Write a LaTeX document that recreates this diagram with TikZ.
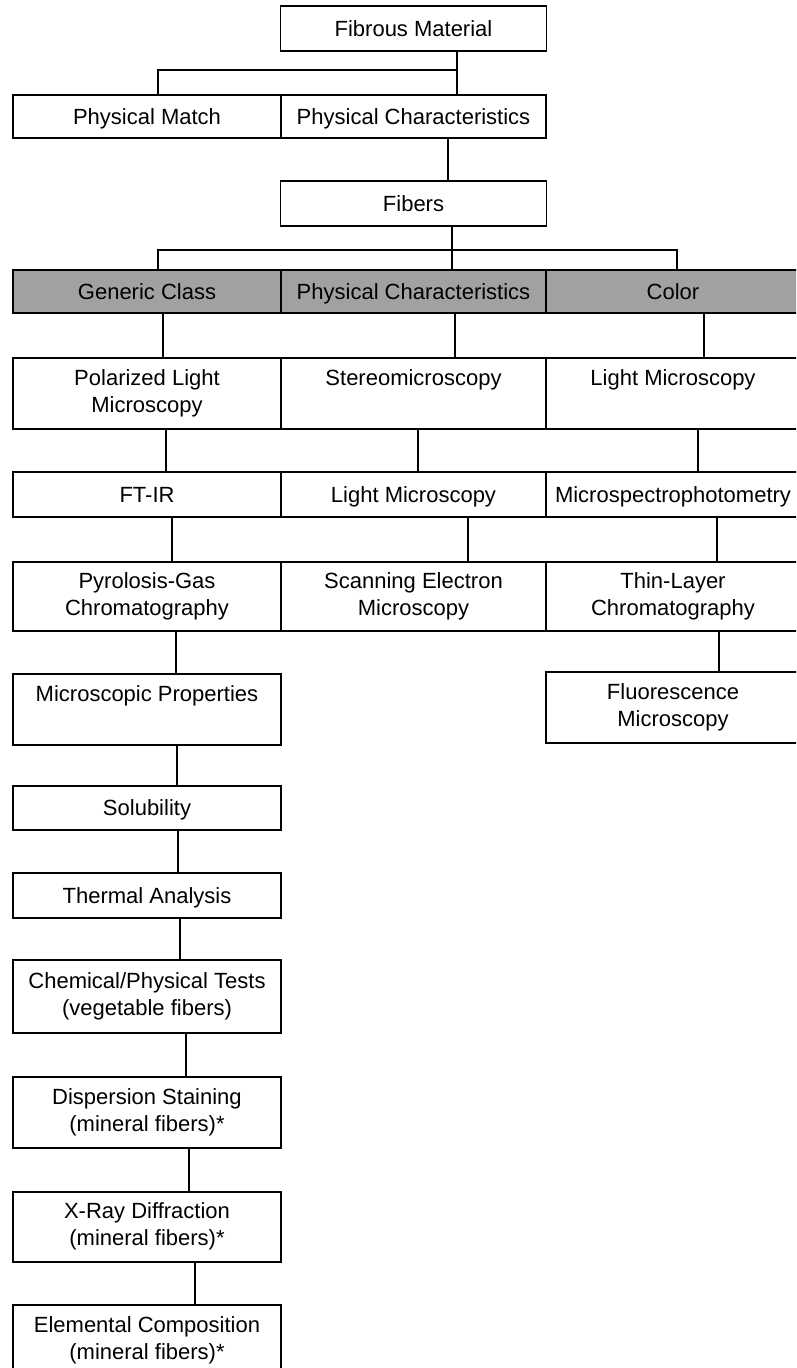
\documentclass[tikz,border=0pt]{standalone}
\usepackage{fontspec}
\setmainfont{Liberation Sans}
\newcommand\capstrut{\rule[-5pt]{0pt}{25pt}}
\tikzset{
  stage/.style={draw, line width=1.3pt, inner sep=0pt, align=center,
    font=\fontsize{22}{27}\selectfont, minimum height=45pt,
    execute at begin node=\capstrut, execute at end node=\capstrut},
  stagetall/.style={stage, minimum height=71pt},
  classcell/.style={stage, fill=black!37, minimum height=43pt},
  link/.style={line width=1.3pt}
}
\begin{document}
\begin{tikzpicture}[x=1pt,y=-1pt]
   \path[use as bounding box, clip] (0,0) rectangle (796,1368);
   % columns: left 13-281, middle 281-546, right 546-800
   \node[stage, minimum width=266pt] (fibrous) at (413.5,28.5) {Fibrous Material};
   \node[stage, minimum width=268pt, minimum height=43pt] (match) at (147,116.5) {Physical Match};
   \node[stage, minimum width=265pt, minimum height=43pt] (physchar) at (413.5,116.5) {Physical Characteristics};
   \node[stage, minimum width=266pt] (fibers) at (413.5,203.5) {Fibers};
   % shaded row
   \node[classcell, minimum width=268pt] (generic) at (147,291.5) {Generic Class};
   \node[classcell, minimum width=265pt] (physmid) at (413.5,291.5) {Physical Characteristics};
   \node[classcell, minimum width=254pt] (color) at (673,291.5) {Color};
   % methods
   \node[stagetall, minimum width=268pt] (plm) at (147,393.5) {Polarized Light\\Microscopy};
   \node[stagetall, minimum width=265pt] (stereo) at (413.5,393.5) {Stereomicroscopy\\~};
   \node[stagetall, minimum width=254pt] (lightr) at (673,393.5) {Light Microscopy\\~};
   \node[stage, minimum width=268pt] (ftir) at (147,494.5) {FT-IR};
   \node[stage, minimum width=265pt] (lightm) at (413.5,494.5) {Light Microscopy};
   \node[stage, minimum width=254pt] (msp) at (673,494.5) {Microspectrophotometry};
   \node[stagetall, minimum width=268pt, minimum height=69pt] (pgc) at (147,596.5) {Pyrolosis-Gas\\Chromatography};
   \node[stagetall, minimum width=265pt, minimum height=69pt] (sem) at (413.5,596.5) {Scanning Electron\\Microscopy};
   \node[stagetall, minimum width=254pt, minimum height=69pt] (tlc) at (673,596.5) {Thin-Layer\\Chromatography};
   \node[stagetall, minimum width=254pt] (fluor) at (673,707.5) {Fluorescence\\Microscopy};
   % left chain
   \node[stagetall, minimum width=268pt] (micro) at (147,709.5) {Microscopic Properties\\~};
   \node[stage, minimum width=268pt, minimum height=44pt] (solub) at (147,808) {Solubility};
   \node[stage, minimum width=268pt] (thermal) at (147,895.5) {Thermal Analysis};
   \node[stagetall, minimum width=268pt, minimum height=73pt] (chem) at (147,996.5) {Chemical/Physical Tests\\(vegetable fibers)};
   \node[stagetall, minimum width=268pt] (disp) at (147,1112.5) {Dispersion Staining\\(mineral fibers)*};
   \node[stagetall, minimum width=268pt, minimum height=70pt] (xray) at (147,1227) {X-Ray Diffraction\\(mineral fibers)*};
   \node[stagetall, minimum width=268pt] (elem) at (147,1340.5) {Elemental Composition\\(mineral fibers)*};
   % connectors
   \coordinate (split1) at (457,70);
   \coordinate (split2) at (452,250);
   \draw[link] (fibrous.south -| split1) -- (physchar.north -| split1);
   \draw[link] (split1) -| ([xshift=11pt]match.north);
   \draw[link] ([xshift=34.5pt]physchar.south) -- ([xshift=34.5pt]fibers.north);
   \draw[link] (fibers.south -| split2) -- (physmid.north -| split2);
   \draw[link] ([xshift=11pt]generic.north) |- (split2) -| ([xshift=4pt]color.north);
   \foreach \a/\b/\dx in {generic/plm/16, physmid/stereo/41.5, color/lightr/31,
       plm/ftir/19, stereo/lightm/4.5, lightr/msp/25,
       ftir/pgc/25, lightm/sem/54.5, msp/tlc/44,
       pgc/micro/29, tlc/fluor/46, micro/solub/30, solub/thermal/31,
       thermal/chem/33, chem/disp/39, disp/xray/42, xray/elem/48}
     {\draw[link] ([xshift=\dx pt]\a.south) -- ([xshift=\dx pt]\b.north);}
\end{tikzpicture}
\end{document}
